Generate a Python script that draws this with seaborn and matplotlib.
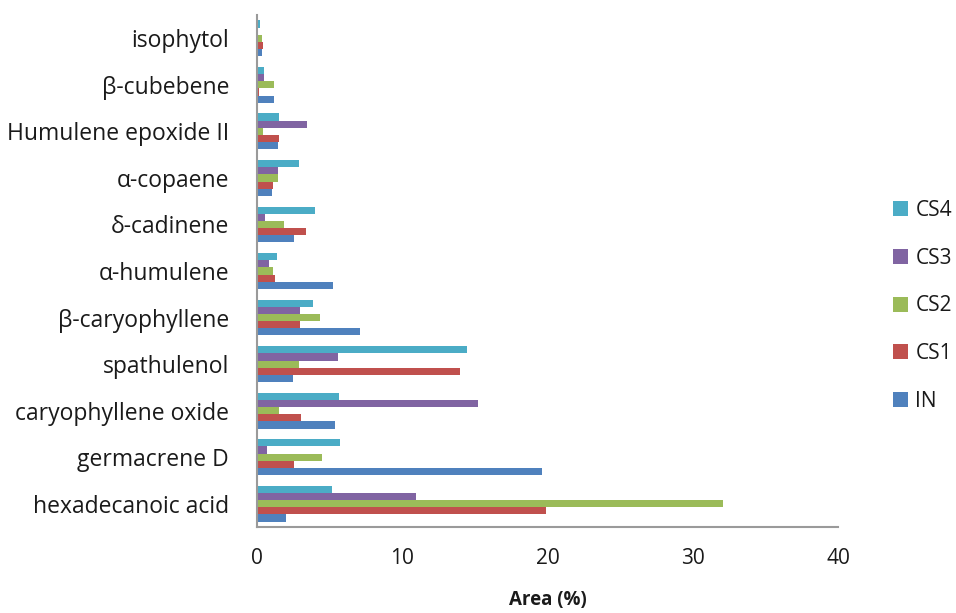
import matplotlib
matplotlib.use("Agg")
import matplotlib.pyplot as plt
import numpy as np
import pandas as pd
import seaborn as sns

# Compounds, listed top to bottom
compounds = ["isophytol", "β-cubebene", "Humulene epoxide II", "α-copaene",
             "δ-cadinene", "α-humulene", "β-caryophyllene", "spathulenol",
             "caryophyllene oxide", "germacrene D", "hexadecanoic acid"]

# Relative area (%) per sample
IN  = [0.32, 1.17, 1.45, 1.03, 2.57, 5.20, 7.09, 2.46, 5.40, 19.65, 2.00]
CS1 = [0.44, 0.16, 1.54, 1.12, 3.35, 1.26, 2.96, 13.96, 3.03, 2.55, 19.90]
CS2 = [0.37, 1.20, 0.39, 1.45, 1.86, 1.10, 4.34, 2.90, 1.50, 4.50, 32.10]
CS3 = [0.05, 0.48, 3.42, 1.45, 0.55, 0.80, 2.96, 5.60, 15.20, 0.67, 10.95]
CS4 = [0.18, 0.48, 1.49, 2.87, 3.97, 1.38, 3.86, 14.44, 5.67, 5.70, 5.14]

samples = ["CS4", "CS3", "CS2", "CS1", "IN"]
series = {"IN": IN, "CS1": CS1, "CS2": CS2, "CS3": CS3, "CS4": CS4}
palette = {"IN": "#4F81BD", "CS1": "#C0504D", "CS2": "#9BBB59",
           "CS3": "#8064A2", "CS4": "#4BACC6"}

df = pd.DataFrame([
    {"compound": c, "sample": s, "area": v}
    for s in samples for c, v in zip(compounds, series[s])
])

sns.set_style("white")
plt.rcParams["font.family"] = ["Open Sans", "DejaVu Sans"]

fig = plt.figure(figsize=(9.56, 6.13), dpi=100)
ax = fig.add_axes([0.2688, 0.1403, 0.6078, 0.8352])

sns.barplot(data=df, x="area", y="compound", hue="sample",
            order=compounds, hue_order=samples, palette=palette,
            orient="h", width=0.77, dodge=True, saturation=1,
            linewidth=0, ax=ax, legend=True)

axis_grey = "#9a9a9a"
text_col = "#1a1a1a"
ax.set_xlim(0, 40)
ax.set_ylim(len(compounds) - 0.5, -0.5)
ax.set_xticks([0, 10, 20, 30, 40])
ax.tick_params(axis="x", direction="out", length=6, width=1.5,
               color=axis_grey, labelsize=15, pad=9, labelcolor=text_col)

# Category boundary ticks on the y axis, labels centred between them
ax.set_yticks(np.arange(-0.5, len(compounds) + 0.5, 1.0), minor=True)
ax.tick_params(axis="y", which="minor", direction="out", length=6,
               width=1.5, color=axis_grey)
ax.tick_params(axis="y", which="major", length=0, labelsize=16.5,
               pad=20, labelcolor=text_col)

for side in ["top", "right"]:
    ax.spines[side].set_visible(False)
for side in ["left", "bottom"]:
    ax.spines[side].set_color(axis_grey)
    ax.spines[side].set_linewidth(1.5)

ax.set_ylabel("")
ax.set_xlabel("Area (%)", fontsize=13.5, fontweight="bold", labelpad=15,
              color=text_col)

handles, labels = ax.get_legend_handles_labels()
fig.legend(handles, labels, loc="center left",
           bbox_to_anchor=(893 / 956, 1 - 306 / 613),
           bbox_transform=fig.transFigure,
           frameon=False, fontsize=15, handlelength=0.72, handleheight=0.72,
           handletextpad=0.35, labelspacing=1.28, borderaxespad=0,
           borderpad=0, labelcolor=text_col)
ax.get_legend().remove()

fig.savefig("out.png", dpi=100)
